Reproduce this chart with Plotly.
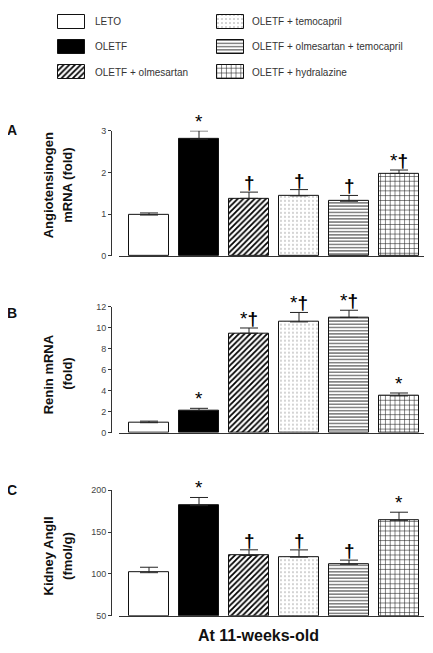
import plotly.graph_objects as go

# ---------------- data ----------------
groups = ["LETO", "OLETF", "OLETF + olmesartan", "OLETF + temocapril",
          "OLETF + olmesartan + temocapril", "OLETF + hydralazine"]

agt_mean = [0.98, 2.80, 1.38, 1.44, 1.31, 1.98]
agt_err = [0.05, 0.20, 0.15, 0.15, 0.14, 0.08]
agt_sig = ["", "*", "†", "†", "†", "*†"]

renin_mean = [0.95, 2.10, 9.47, 10.55, 10.98, 3.50]
renin_err = [0.15, 0.22, 0.50, 0.90, 0.68, 0.28]
renin_sig = ["", "*", "*†", "*†", "*†", "*"]

ang_mean = [101.5, 181.5, 122.0, 120.0, 111.5, 164.0]
ang_err = [6.5, 9.8, 6.8, 8.7, 5.0, 9.7]
ang_sig = ["", "*", "†", "†", "†", "*"]

panel_letters = ["A", "B", "C"]
panel_titles = [["Angiotensinogen", "mRNA (fold)"], ["Renin mRNA", "(fold)"],
                ["Kidney AngII", "(fmol/g)"]]
y_ranges = [[0, 3], [0, 12], [50, 200]]
y_ticks = [[0, 1, 2, 3], [0, 2, 4, 6, 8, 10, 12], [50, 100, 150, 200]]
x_title = "At 11-weeks-old"

# ---------------- styles ----------------
WIN_W, WIN_H = 433, 653
OFF = 8                      # page body margin
W, H = WIN_W - OFF, WIN_H - OFF
FONT = "Liberation Sans, Arial, Helvetica, sans-serif"
fill_colors = ["white", "black", "white", "white", "white", "white"]
pat_shapes = ["", "", "/", ".", "-", "+"]
pat_fg = ["black", "black", "#000000", "#9a9a9a", "#444444", "#222222"]
pat_size = [6, 6, 4, 4, 3.2, 4.8]
pat_solid = [0.3, 0.3, 0.45, 0.12, 0.33, 0.22]


def fx(px):
    return (px - OFF) / W


def fy(py):
    return 1 - (py - OFF) / H


def marker(j):
    m = dict(color=fill_colors[j], line=dict(color="#111111", width=1))
    if pat_shapes[j]:
        m["pattern"] = dict(shape=pat_shapes[j], fgcolor=pat_fg[j],
                            bgcolor=fill_colors[j], size=pat_size[j],
                            solidity=pat_solid[j], fillmode="replace")
    return m


def sig_text(s):
    return s.replace("†", "<b>†</b>")


fig = go.Figure()

panels = [(agt_mean, agt_err, agt_sig), (renin_mean, renin_err, renin_sig),
          (ang_mean, ang_err, ang_sig)]
panel_px = [(127.7, 254.7), (306.3, 434.3), (492.7, 620.3)]
title_cy = [183, 375, 560]
letter_y = [127, 313, 493]

for i, (mean, err, sig) in enumerate(panels):
    n = i + 1
    xa = "x" if n == 1 else f"x{n}"
    ya = "y" if n == 1 else f"y{n}"
    base = y_ranges[i][0]
    for j in range(len(groups)):
        fig.add_trace(go.Bar(
            x=[j], y=[mean[j] - base], base=base, width=0.8,
            marker=marker(j), cliponaxis=False, showlegend=False, name=groups[j],
            error_y=dict(type="data", symmetric=False, array=[err[j]],
                         arrayminus=[0], color="#222222", thickness=1, width=9),
            xaxis=xa, yaxis=ya))
    top, bot = panel_px[i]
    fig.layout[f"xaxis{'' if n == 1 else n}"] = dict(
        domain=[fx(119), fx(423.5)], range=[-0.6, 5.49], anchor=ya,
        showline=True, linecolor="#333333", linewidth=1, ticks="",
        showticklabels=False, showgrid=False, zeroline=False, fixedrange=True)
    fig.layout[f"yaxis{'' if n == 1 else n}"] = dict(
        domain=[fy(bot), fy(top)], range=y_ranges[i], anchor="free",
        position=fx(111), showline=True, linecolor="#333333", linewidth=1,
        ticks="outside", ticklen=3, tickwidth=1, tickcolor="#333333",
        tickvals=y_ticks[i], showgrid=False, zeroline=False,
        tickfont=dict(family=FONT, size=9, color="#444444"), fixedrange=True)
    for j, s in enumerate(sig):
        if s:
            fig.add_annotation(x=j, y=mean[j] + err[j], xref=xa, yref=ya,
                               text=sig_text(s), showarrow=False, yanchor="bottom",
                               yshift=-3, font=dict(family=FONT, size=19, color="#000000"))
    for k, line in enumerate(panel_titles[i]):
        fig.add_annotation(x=fx(48 + 19.5 * k), y=fy(title_cy[i]), xref="paper",
                           yref="paper", text=f"<b>{line}</b>", textangle=-90,
                           showarrow=False, xanchor="center", yanchor="middle",
                           font=dict(family=FONT, size=13, color="#111111"))
    fig.add_annotation(x=fx(12), y=fy(letter_y[i]), xref="paper", yref="paper",
                       text=f"<b>{panel_letters[i]}</b>", showarrow=False,
                       xanchor="center", yanchor="middle",
                       font=dict(family=FONT, size=14, color="#111111"))

fig.add_annotation(x=fx(258), y=fy(640), xref="paper", yref="paper",
                   text=f"<b>{x_title}</b>", showarrow=False, xanchor="center",
                   yanchor="middle", font=dict(family=FONT, size=16, color="#111111"))

# ---------------- legend (drawn as small patterned bars) ----------------
col_left = [58, 217]
text_left = [92.5, 250]
row_cy = [17, 42.5, 68]
for k, g in enumerate(groups):
    fig.add_trace(go.Bar(
        orientation="h", y=[row_cy[k % 3]], x=[27], base=[col_left[k // 3]],
        width=14, marker=marker(k), showlegend=False, hoverinfo="skip",
        name=g, xaxis="x4", yaxis="y4"))
    fig.add_annotation(x=text_left[k // 3], y=row_cy[k % 3], xref="x4", yref="y4",
                       text=g, showarrow=False, xanchor="left", yanchor="middle",
                       font=dict(family=FONT, size=10, color="#333333"))
fig.layout["xaxis4"] = dict(domain=[0, 1], range=[OFF, WIN_W], visible=False,
                            anchor="y4", fixedrange=True)
fig.layout["yaxis4"] = dict(domain=[fy(82), 1], range=[82, OFF], visible=False,
                            anchor="x4", fixedrange=True)

fig.update_layout(width=W, height=H, margin=dict(l=0, r=0, t=0, b=0),
                  paper_bgcolor="white", plot_bgcolor="white", bargap=0,
                  barmode="overlay")

fig.write_html("out.html")
